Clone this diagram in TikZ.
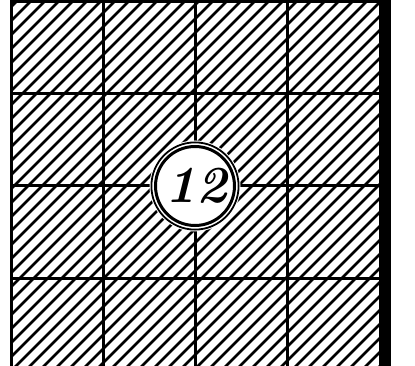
\documentclass[tikz,border=0pt]{standalone}
\begin{document}
\begin{tikzpicture}[x=1pt,y=-1pt,
  gridline/.style={line width=3pt,line cap=rect},
  hatchline/.style={line width=2.6pt},
  ringthin/.style={line width=1.8pt},
  ringthick/.style={line width=3pt}]
\useasboundingbox (0,0) rectangle (415,366);
\fill[white] (0,0) rectangle (415,366);
% hatching
\begin{scope}
  \clip (11,2) rectangle (379,366);
  \foreach \c in {4,18,...,800} {
    \draw[hatchline] (\c,0) -- (\c-420,420);
  }
\end{scope}
% grid
\foreach \x in {11,103,195,287} {
  \draw[gridline] (\x,2) -- (\x,366);
}
\foreach \y in {2,94,186,278} {
  \draw[gridline] (11,\y) -- (379,\y);
}
% right bar
\fill[black] (379,0.5) rectangle (391,366);
% centre circle
\fill[white] (195,186) circle (45.5);
\draw[ringthin] (195,186) circle (43.6);
\draw[ringthick] (195,186) circle (39.5);
\node[font=\fontsize{52}{52}\selectfont\bfseries\itshape, inner sep=0pt] (num) at (196,186) {12};
\end{tikzpicture}
\end{document}
